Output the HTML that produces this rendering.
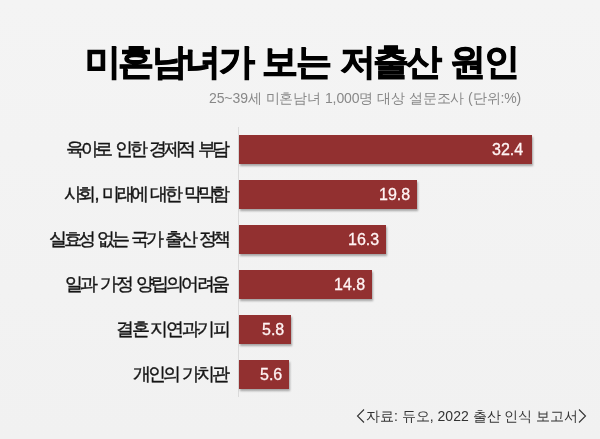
<!DOCTYPE html>
<html><head><meta charset="utf-8">
<style>
html,body{margin:0;padding:0;}
body{width:600px;height:439px;background:linear-gradient(#f4f4f4,#f1f1f1);position:relative;overflow:hidden;font-family:"Liberation Sans",sans-serif;}
.t{position:absolute;white-space:nowrap;line-height:1;}
.t,.lab,.val,#src{will-change:transform;}
#title{left:85px;top:44px;font-size:36px;font-weight:bold;color:#000;letter-spacing:-2.6px;word-spacing:3px;-webkit-text-stroke:1px #000;}
#sub{left:209px;top:91px;font-size:14px;color:#888;letter-spacing:-0.1px;}
.lab{position:absolute;right:372px;font-size:18px;color:#151515;white-space:nowrap;line-height:1;letter-spacing:-3.2px;word-spacing:3px;-webkit-text-stroke:0.4px #151515;}
.bar{position:absolute;left:239px;height:29px;background:#923030;box-shadow:1px 1.5px 2px rgba(0,0,0,.32);}
.val{position:absolute;right:7px;top:0;height:29px;line-height:29px;font-size:16px;color:#fff4f4;-webkit-text-stroke:0.3px #fff4f4;}
#axis{position:absolute;left:238px;top:127px;width:1px;height:270px;background:#dadada;}
#src{position:absolute;left:366px;top:409px;font-size:14px;color:#333;white-space:nowrap;line-height:1;}
svg{position:absolute;left:0;top:0;}
</style></head><body>
<div id="title" class="t">미혼남녀가 보는 저출산 원인</div>
<div id="sub" class="t">25~39세 미혼남녀 1,000명 대상 설문조사 (단위:%)</div>
<div id="axis"></div>
<div class="lab" style="top:140px;right:373px;letter-spacing:-3.3px">육아로 인한 경제적 부담</div>
<div class="lab" style="top:185px;right:373px;letter-spacing:-3.55px">사회<span style="margin-left:1.5px;letter-spacing:-1.5px">,</span> 미래에 대한 막막함</div>
<div class="lab" style="top:230px;right:372px;letter-spacing:-3.4px">실효성 없는 국가 출산 정책</div>
<div class="lab" style="top:275px;right:373px;letter-spacing:-2.85px">일과 가정 양립의어려움</div>
<div class="lab" style="top:320px;right:371px;letter-spacing:-2.3px;word-spacing:0px">결혼 지연과기피</div>
<div class="lab" style="top:365px;right:373px">개인의 가치관</div>
<div class="bar" style="top:135px;width:293px"><span class="val" style="right:8.5px">32.4</span></div>
<div class="bar" style="top:180px;width:178px"><span class="val">19.8</span></div>
<div class="bar" style="top:225px;width:147px"><span class="val">16.3</span></div>
<div class="bar" style="top:270px;width:133px"><span class="val">14.8</span></div>
<div class="bar" style="top:315px;width:52px"><span class="val">5.8</span></div>
<div class="bar" style="top:360px;width:50px"><span class="val">5.6</span></div>
<div id="src">자료: 듀오, 2022 출산 인식 보고서</div>
<svg width="600" height="439" viewBox="0 0 600 439">
<polyline points="364,409.5 357.5,416 364,422.5" fill="none" stroke="#333" stroke-width="1.1"/>
<polyline points="579,409.5 585.5,416 579,422.5" fill="none" stroke="#333" stroke-width="1.1"/>
</svg>
</body></html>
